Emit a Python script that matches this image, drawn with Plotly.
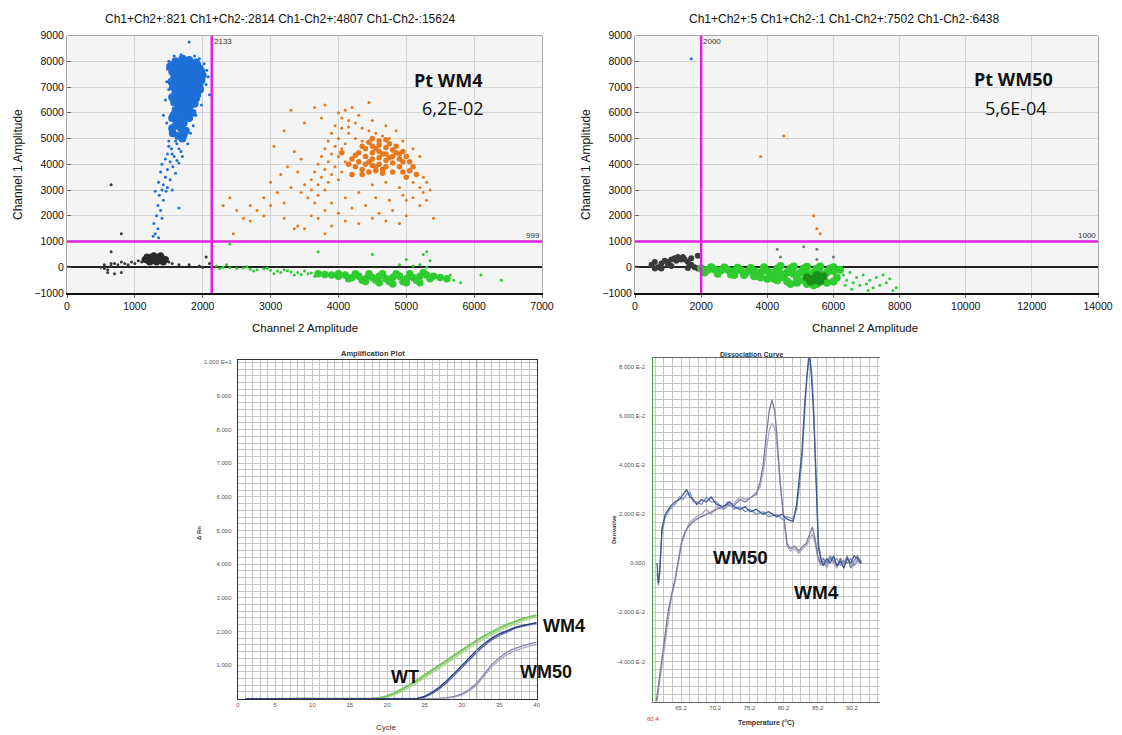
import plotly.graph_objects as go

# ---------------- DATA ----------------
# Panel A (Pt WM4) droplets: (Channel 2 amplitude, Channel 1 amplitude)
A_BLUE_CORE = [(1600,8000),(1700,8100),(1800,8050),(1900,7950),(1650,7800),(1750,7850),(1850,7800),(1950,7700),
    (1550,7600),(1620,7650),(1700,7600),(1780,7650),(1860,7600),(1930,7500),(2000,7450),(1580,7400),(1660,7450),
    (1740,7400),(1820,7400),(1900,7350),(1980,7250),(1600,7200),(1680,7250),(1760,7200),(1840,7200),(1920,7150),
    (1560,7000),(1640,7050),(1720,7000),(1800,7000),(1880,6950),(1960,6900),(1600,6800),(1680,6850),(1760,6800),
    (1840,6750),(1920,6700),(1620,6600),(1700,6600),(1780,6550),(1860,6500),(1580,6400),(1660,6400),(1740,6350),
    (1820,6300),(1640,6200),(1720,6150),(1800,6100),(1600,6000),(1680,5950),(1760,5900),(1550,5800),(1650,5700),
    (1720,5600),(1600,5500),(1680,5400),(1750,5300),(1560,5200),(1640,5100),(1700,5000),
    (1520,7800),(1620,7900),(1720,7950),(1820,7900),(1920,7850),(1980,7600),(1540,7200),(1700,7100),(1850,7100),
    (1950,7050),(1650,6700),(1800,6650),(1900,6550),(1550,6600),(1700,6450),(1880,6350),(1600,6100),(1750,6050),
    (1850,6000),(1570,5900),(1700,5750),(1800,5800),(1620,5600),(1550,5400),(1720,5150)]
A_BLUE = [(1500,4900),(1620,4800),(1540,4600),(1680,4500),(1480,4400),(1580,4300),(1450,4200),(1520,4100),(1650,4050),
    (1400,4000),(1560,3900),(1480,3800),(1380,3700),(1600,3650),(1450,3500),(1520,3400),(1350,3300),(1420,3200),
    (1480,3100),(1400,3000),(1300,2950),(1460,2950),(1550,3000),(1360,2800),(1420,2600),(1340,2400),(1380,2200),
    (1320,2000),(1400,1900),(1280,1700),(1340,1500),(1300,1300),(1270,1200),(1350,1150),(1650,2300),(1800,8750),
    (2100,6700),(2050,7100),(2020,7900),(1500,8000),(1480,7700),(1450,6500),(1420,5900),(1980,6300),(1900,5900),
    (1860,5500),(1820,5200),(1780,4800),(1700,4300),(1520,5300),(1470,5600),(2080,7400),(2060,7650),(1530,7950),
    (1580,8200),(1680,8250),(1880,8200),(1950,8100),(1990,7800),(1500,6900),(1470,7200),(1600,4900),(1500,4700),
    (1650,4600),(1550,4400),(1620,4150)]
A_ORANGE_CORE = [(4400,4600),(4500,4700),(4600,4750),(4700,4650),(4800,4550),(4900,4400),(4500,4450),(4600,4500),
    (4700,4400),(4800,4300),(4900,4200),(4400,4300),(4500,4200),(4600,4250),(4700,4150),(4800,4050),(4300,4100),
    (4400,4000),(4500,3950),(4600,4000),(4700,3900),(4350,3800),(4450,3700),(4550,3750),(4650,3650),(4250,3900),
    (4200,4200),(4300,4450),(4850,4700),(4950,4500),(5000,4300),(5050,4100),(4900,3900),(4800,3700),(5100,3900),
    (5150,3600),(5000,3500),(4200,3600),(4600,4900),(4500,5000),
    (4350,4700),(4450,4850),(4550,4600),(4650,4400),(4750,4250),(4850,4450),(4950,4100),(4750,4800),(4450,4100),
    (4550,3900),(4350,3600),(4650,3800),(4250,4350),(4150,4000),(4050,4450),(4950,3700),(5050,3750),(4700,4950)]
A_ORANGE = [(4000,6000),(4100,6100),(4050,5800),(4150,5700),(4250,5600),(4350,5400),(4450,5300),(4550,5200),(4650,5100),
    (4750,5000),(3950,5500),(4050,5400),(4150,5200),(4250,5000),(4350,4900),(3900,5200),(4000,5000),(4100,4800),
    (3850,4900),(3950,4700),(4050,4600),(3800,4600),(3900,4400),(4000,4300),(4100,4100),(3750,4300),(3850,4100),
    (3950,3900),(4050,3700),(3700,4000),(3800,3800),(3900,3600),(4000,3400),(3650,3700),(3750,3500),(3850,3300),
    (3600,3400),(3700,3200),(3800,3000),(3500,3200),(3600,3000),(3700,2800),(3450,2900),(3550,2700),(3650,2500),
    (3900,2500),(4100,2700),(4300,2900),(4500,3200),(4700,3300),(4900,3100),(5100,3300),(5200,3100),(5300,3300),
    (5250,2900),(5100,2700),(4950,2800),(4750,2600),(4550,2700),(4400,2400),(4200,2300),(4000,2100),(3800,2200),
    (4600,2100),(4800,2200),(5000,2000),(5400,1900),(5250,3500),(5300,2600),(4300,5900),(4200,6200),(3750,5800),
    (3650,6200),(3500,5600),(3300,6100),(3200,5300),(3050,4700),(3350,4500),(3450,4200),(3250,3900),(3150,3600),
    (3400,3700),(3000,3300),(3300,3100),(3100,2900),(2900,2700),(3200,2500),(3000,2400),(2800,2200),(2700,2400),
    (2900,2000),(2600,1900),(2500,2200),(2400,2700),(2300,2400),(2450,1300),(2700,1800),(3200,1900),(3350,1500),
    (3400,1600),(3500,1500),(3800,1300),(3900,1600),(4100,1800),(4300,1700),(4500,1900),(4700,1800),(4900,1700),
    (5000,2600),(5200,2400),(5350,3000),(3600,2000),(3700,1900),(3800,6300),(4450,6400),(4150,5450),(4500,5700),
    (4700,5500),(4850,5300),(4950,4900),(5100,4600),(5200,4300)]
A_GREEN_CORE = [(3900,-300),(4000,-350),(4100,-300),(4200,-400),(4300,-350),(4400,-450),(4500,-400),(4600,-350),
    (4700,-450),(4800,-400),(4900,-350),(5000,-450),(5100,-400),(5200,-350),(5300,-300),(4000,-250),(4150,-450),
    (4350,-500),(4550,-500),(4750,-550),(4950,-550),(5150,-500),(5350,-450),(4250,-250),(4450,-250),(4650,-250),
    (4850,-250),(5050,-250),(5250,-200),(5400,-350),(5500,-400),(5600,-450),(4600,-600),(4800,-650),(5000,-600),
    (5200,-600),(4400,-550),(3800,-280),(3700,-250)]
A_GREEN = [(2200,50),(2300,0),(2400,-20),(2500,-50),(2600,-30),(2700,-80),(2800,-100),(2900,-60),(3000,-120),
    (3100,-150),(3200,-100),(3300,-180),(3400,-200),(3500,-150),(3600,-220),(3700,-250),(3800,-200),(2350,100),
    (2650,20),(2950,-40),(3250,-140),(3550,-250),(3850,-300),(2250,-50),(2750,-150),(3150,-200),(3450,-280),
    (5700,-500),(5800,-600),(6100,-300),(6400,-500),(5300,0),(5200,100),(5350,250),(5250,500),(5300,600),
    (4500,500),(5000,300),(3700,600),(2400,900),(4900,100),(5100,50),(3050,-250),(3350,-300),(3650,-350),(5650,-300)]
A_BLACK_CORE = [(1150,300),(1200,350),(1250,300),(1300,350),(1350,300),(1400,250),(1200,250),(1250,400),(1300,250),
    (1350,400),(1400,350),(1450,300),(1220,200),(1320,200),(1280,450),(1380,450),(1180,400),(1420,200)]
A_BLACK = [(500,0),(550,100),(600,-100),(650,50),(700,150),(750,100),(800,200),(850,150),(900,100),(950,200),
    (1000,150),(1050,250),(1100,200),(600,-200),(700,-250),(800,-200),(550,-50),(650,150),(1500,200),(1550,150),
    (1650,100),(1800,100),(2000,0),(2050,400),(650,600),(800,1300),(650,3200),(2100,150),(1950,50)]

# Panel B (Pt WM50) droplets
B_BLUE = [(1700,8100)]
B_ORANGE = [(3800,4300),(4500,5100),(5400,2000),(5500,1500),(5600,1300)]
B_GREY = [(4300,700),(4400,400),(5100,800),(5500,700),(5500,300),(6000,400)]
B_GREEN = [(2000,-50),(2200,-100),(2400,-80),(2600,-120),(2800,-100),(3000,-150),(3200,-120),(3400,-180),(3600,-150),
    (3800,-200),(4000,-150),(4200,-200),(4400,-250),(4600,-200),(4800,-250),(5000,-200),(5200,-250),(5400,-200),
    (5600,-250),(5800,-200),(6000,-150),(6200,-100),(2100,-200),(2500,-250),(2900,-280),(3300,-300),(3700,-320),
    (4100,-350),(4500,-400),(4900,-450),(5300,-450),(5700,-450),(6100,-400),(3900,0),(4300,-50),(4700,-50),
    (5100,-50),(5500,-50),(5900,-50),(3500,-30),(3100,-20),(2700,-10),(2300,0),(4300,-500),(4600,-550),(4900,-600),
    (5200,-650),(5500,-650),(5800,-600),(6000,-550),(4700,-650),(5400,-700),(5100,-500),(5600,-500),(3600,-350),
    (3000,-300),(4000,-450),(4400,50),(4800,30),(5200,20),(5600,30),(6000,0),(3800,-400),(4200,-450)]
B_GREEN_SPARSE = [(6300,-300),(6500,-200),(6700,-400),(6900,-300),(7100,-500),(7300,-400),(6600,-600),(6800,-700),
    (7000,-650),(7200,-800),(7400,-700),(7600,-600),(7800,-900),(7500,-300),(7900,-800),(6400,-500),(7700,-450),
    (6350,-700),(6550,-850),(7050,-900)]
B_GREEN_DARK = [(5200,-400),(5400,-450),(5600,-400),(5500,-300),(5700,-350),(5300,-550),(5600,-550),(5450,-500)]
B_BLACK = [(500,100),(600,200),(700,0),(800,150),(900,250),(1000,200),(1100,300),(1200,350),(1300,400),(1400,300),
    (1250,250),(1350,350),(1450,400),(1500,300),(600,-50),(800,-50),(1000,100),(1100,50),(1600,200),(1700,100),
    (1800,0),(1900,-50),(1700,350),(1900,450),(1600,-30)]

TITLE_A = "Ch1+Ch2+:821 Ch1+Ch2-:2814 Ch1-Ch2+:4807 Ch1-Ch2-:15624"
TITLE_B = "Ch1+Ch2+:5 Ch1+Ch2-:1 Ch1-Ch2+:7502 Ch1-Ch2-:6438"
THRESH_A = (2133, 999)
THRESH_B = (2000, 1000)
LABEL_A = ("Pt WM4", "6,2E-02")
LABEL_B = ("Pt WM50", "5,6E-04")

# Amplification plot (cycle 1..40, delta Rn)
CYCLES = list(range(1, 41))
BASE17 = [0.00, 0.01, 0.00, 0.00, 0.01, 0.00, 0.00, 0.02, 0.02, 0.00, 0.00, 0.00, 0.01, 0.00, 0.00, 0.00, 0.00]
WT1 = BASE17 + [0.01, 0.03, 0.09, 0.18, 0.29, 0.42, 0.56, 0.71, 0.86, 1.01, 1.17, 1.32, 1.47, 1.61, 1.75, 1.88,
                2.00, 2.11, 2.21, 2.30, 2.38, 2.44, 2.49]
WT2 = [0.0] * 17 + [0.00, 0.02, 0.07, 0.15, 0.26, 0.38, 0.52, 0.67, 0.82, 0.97, 1.13, 1.28, 1.43, 1.57, 1.71, 1.84,
                    1.97, 2.08, 2.18, 2.27, 2.35, 2.42, 2.47]
WT3 = [0.0] * 17 + [0.00, 0.01, 0.05, 0.12, 0.22, 0.34, 0.47, 0.62, 0.77, 0.92, 1.07, 1.22, 1.37, 1.51, 1.65, 1.78,
                    1.91, 2.03, 2.13, 2.22, 2.30, 2.37, 2.43]
WM4_1 = [0.0] * 23 + [0.01, 0.07, 0.19, 0.35, 0.54, 0.76, 0.99, 1.23, 1.45, 1.64, 1.80, 1.93, 2.03, 2.11, 2.17,
                      2.22, 2.26]
WM4_2 = [0.0] * 23 + [0.00, 0.05, 0.15, 0.30, 0.48, 0.70, 0.93, 1.16, 1.38, 1.58, 1.75, 1.88, 1.99, 2.08, 2.15,
                      2.20, 2.24]
WM50_1 = [0.0] * 26 + [0.01, 0.03, 0.07, 0.14, 0.28, 0.46, 0.75, 1.02, 1.22, 1.38, 1.49, 1.57, 1.63, 1.68]
WM50_2 = [0.0] * 27 + [0.02, 0.05, 0.11, 0.24, 0.41, 0.68, 0.95, 1.15, 1.31, 1.42, 1.50, 1.56, 1.61]
AMP_Y_TICKS = [1, 2, 3, 4, 5, 6, 7, 8, 9, 10]
AMP_Y_TEXT = ["1.000", "2.000", "3.000", "4.000", "5.000", "6.000", "7.000", "8.000", "9.000", "1.000 E+1"]
AMP_X_TICKS = [0, 5, 10, 15, 20, 25, 30, 35, 40]

# Dissociation curve (temperature, derivative)
T_WM4 = [61.7, 61.9, 62.1, 62.4, 62.9, 63.6, 64.3, 65.0, 65.5, 66.0, 66.5, 67.0, 67.5, 68.2, 68.9, 69.6, 70.4,
         71.4, 72.3, 73.0, 73.8, 74.6, 75.3, 76.2, 77.2, 78.0, 79.2, 80.0, 80.7, 81.6, 82.1, 82.5, 82.9, 83.3,
         83.6, 83.96, 84.3, 84.6, 84.95, 85.3, 85.7, 86.0, 86.5, 87.0, 87.5, 88.0, 88.5, 89.0, 89.5, 90.0, 90.5,
         91.0, 91.5]
D_WM4_1 = [0.000, -0.008, -0.004, 0.014, 0.020, 0.023, 0.025, 0.026, 0.028, 0.030, 0.027, 0.026, 0.024, 0.026,
           0.025, 0.027, 0.024, 0.023, 0.025, 0.023, 0.022, 0.023, 0.021, 0.022, 0.020, 0.021, 0.019, 0.020,
           0.018, 0.017, 0.024, 0.034, 0.046, 0.066, 0.078, 0.087, 0.075, 0.060, 0.033, 0.006, 0.001, -0.001,
           0.002, 0.000, 0.003, -0.001, 0.001, -0.002, 0.002, 0.000, 0.003, 0.002, 0.000]
D_WM4_2 = [-0.004, -0.009, -0.002, 0.012, 0.019, 0.022, 0.024, 0.027, 0.026, 0.028, 0.029, 0.025, 0.025, 0.024,
           0.027, 0.025, 0.025, 0.022, 0.024, 0.022, 0.023, 0.021, 0.022, 0.020, 0.021, 0.019, 0.020, 0.018,
           0.019, 0.018, 0.022, 0.031, 0.043, 0.062, 0.076, 0.085, 0.078, 0.063, 0.036, 0.008, 0.002, 0.000,
           -0.001, 0.002, 0.001, 0.002, -0.001, 0.001, 0.000, 0.002, -0.001, 0.001, 0.000]
T_WM50 = [61.6, 61.9, 62.1, 62.4, 62.9, 63.3, 63.8, 64.3, 64.8, 65.3, 65.8, 66.3, 67.0, 67.5, 68.2, 68.9, 69.6,
          70.4, 71.2, 72.0, 72.8, 73.8, 74.6, 75.5, 76.2, 76.75, 77.2, 77.7, 78.1, 78.5, 78.9, 79.2, 79.5, 79.7,
          80.1, 80.4, 80.7, 81.2, 81.8, 82.4, 83.0, 83.5, 84.0, 84.4, 84.8, 85.2, 85.6, 86.0, 86.5, 87.0, 87.5,
          88.0, 88.5, 89.0, 89.5, 90.0, 90.5, 91.0, 91.6]
D_WM50_1 = [-0.056, -0.050, -0.045, -0.040, -0.030, -0.020, -0.013, -0.007, 0.001, 0.009, 0.013, 0.015, 0.017,
            0.018, 0.019, 0.020, 0.021, 0.022, 0.023, 0.024, 0.023, 0.026, 0.025, 0.027, 0.028, 0.033, 0.040,
            0.053, 0.062, 0.0665, 0.062, 0.053, 0.042, 0.0326, 0.022, 0.016, 0.008, 0.006, 0.007, 0.005, 0.007,
            0.008, 0.012, 0.0148, 0.010, 0.003, 0.000, 0.002, 0.000, 0.003, 0.001, -0.001, 0.002, 0.000, 0.003,
            -0.002, 0.001, 0.003, 0.000]
D_WM50_2 = [-0.058, -0.052, -0.047, -0.041, -0.031, -0.022, -0.014, -0.008, 0.000, 0.008, 0.012, 0.016, 0.018,
            0.019, 0.020, 0.022, 0.020, 0.023, 0.022, 0.025, 0.024, 0.027, 0.026, 0.027, 0.029, 0.031, 0.037,
            0.047, 0.054, 0.057, 0.055, 0.049, 0.040, 0.031, 0.021, 0.014, 0.007, 0.005, 0.006, 0.004, 0.006,
            0.007, 0.010, 0.012, 0.008, 0.002, -0.001, 0.001, -0.002, 0.002, 0.000, -0.002, 0.001, -0.001, 0.002,
            0.000, -0.001, 0.002, 0.001]
DIS_X_TICKS = [65.2, 70.2, 75.2, 80.2, 85.2, 90.2]
DIS_Y_TICKS = [-0.04, -0.02, 0.0, 0.02, 0.04, 0.06, 0.08]
DIS_Y_TEXT = ["-4.000 E-2", "-2.000 E-2", "0.000", "2.000 E-2", "4.000 E-2", "6.000 E-2", "8.000 E-2"]

# ---------------- FIGURE ----------------
W, H = 1122, 735
def fx(p): return p / W
def fy(p): return 1 - p / H

C_BLUE, C_ORANGE, C_GREEN, C_BLACK = "#1f6fd8", "#e8781c", "#2fcc2f", "#3a3a3a"
MAG = "#e11fe1"
FONT = "Liberation Sans, Arial, sans-serif"

fig = go.Figure()

def pts(pairs, color, size, xa, ya):
    fig.add_trace(go.Scatter(x=[p[0] for p in pairs], y=[p[1] for p in pairs], mode="markers",
                             marker=dict(color=color, size=size, line=dict(width=0)),
                             xaxis=xa, yaxis=ya, showlegend=False, hoverinfo="skip"))

# Panel A
pts(A_BLACK, C_BLACK, 3, "x", "y")
pts(A_BLACK_CORE, "#2a2a2a", 7, "x", "y")
pts(A_GREEN, C_GREEN, 3, "x", "y")
pts(A_GREEN_CORE, C_GREEN, 7.5, "x", "y")
pts(A_ORANGE, C_ORANGE, 3, "x", "y")
pts(A_ORANGE_CORE, C_ORANGE, 5.5, "x", "y")
pts(A_BLUE, C_BLUE, 3, "x", "y")
pts(A_BLUE_CORE, C_BLUE, 8, "x", "y")
# Panel B
pts(B_BLACK, C_BLACK, 6, "x2", "y2")
pts(B_GREEN_SPARSE, C_GREEN, 3, "x2", "y2")
pts(B_GREEN, C_GREEN, 8, "x2", "y2")
pts(B_GREEN_DARK, "#1a8f1a", 8, "x2", "y2")
pts(B_GREY, "#777777", 3, "x2", "y2")
pts(B_ORANGE, C_ORANGE, 3, "x2", "y2")
pts(B_BLUE, C_BLUE, 3, "x2", "y2")

# Amplification plot
amp = [(WT3, "#a9d98f"), (WT2, "#8fcf72"), (WT1, "#6fbf55"),
       (WM50_2, "#b3a9c6"), (WM50_1, "#8c84a6"), (WM4_2, "#5466a8"), (WM4_1, "#23387f")]
for ys, col in amp:
    fig.add_trace(go.Scatter(x=CYCLES, y=ys, mode="lines", line=dict(color=col, width=1.3),
                             xaxis="x3", yaxis="y3", showlegend=False, hoverinfo="skip"))

# Dissociation curve
dis = [(T_WM50, D_WM50_2, "#b0a7c8"), (T_WM50, D_WM50_1, "#7f7a9a"),
       (T_WM4, D_WM4_2, "#7f95c4"), (T_WM4, D_WM4_1, "#3f5690")]
for xs, ys, col in dis:
    fig.add_trace(go.Scatter(x=xs, y=ys, mode="lines", line=dict(color=col, width=1.3),
                             xaxis="x4", yaxis="y4", showlegend=False, hoverinfo="skip"))

tickf = dict(family=FONT, size=10.5, color="#111")
small = dict(family=FONT, size=6, color="#555")

scat_x = dict(range=[0, 7000], dtick=1000, tickformat="d", showgrid=True, gridcolor="#d5d5d5", zeroline=False,
              showline=True, linecolor="#111", linewidth=1.5, ticks="outside", ticklen=3, tickcolor="#777",
              tickfont=tickf, automargin=False)
scat_y = dict(range=[-1000, 9000], dtick=1000, tickformat="d", showgrid=True, gridcolor="#d5d5d5", zeroline=True,
              zerolinecolor="#222", zerolinewidth=1.5, showline=True, linecolor="#aaaaaa", linewidth=1,
              mirror=True, ticks="inside", ticklen=4, tickcolor="#666", tickfont=tickf, automargin=False)

fig.update_layout(
    width=W, height=H, margin=dict(l=0, r=0, t=0, b=0, autoexpand=False),
    paper_bgcolor="white", plot_bgcolor="rgba(0,0,0,0)",
    xaxis=dict(scat_x, domain=[fx(67), fx(542)], anchor="y"),
    yaxis=dict(scat_y, domain=[fy(293), fy(35.5)], anchor="x"),
    xaxis2=dict(scat_x, range=[0, 14000], dtick=2000, domain=[fx(635), fx(1098)], anchor="y2"),
    yaxis2=dict(scat_y, domain=[fy(293), fy(35.5)], anchor="x2"),
    xaxis3=dict(domain=[fx(237.7), fx(536.7)], anchor="y3", range=[0, 40], tickvals=AMP_X_TICKS,
                showgrid=True, gridcolor="#c6c6c6", gridwidth=1, zeroline=False,
                minor=dict(dtick=1, showgrid=True, gridcolor="#c6c6c6"),
                showline=True, linecolor="#333", linewidth=1, mirror=True, ticks="", tickfont=small,
                automargin=False),
    yaxis3=dict(domain=[fy(698.7), fy(360)], anchor="x3", range=[0, 10.07], tickvals=AMP_Y_TICKS,
                ticktext=AMP_Y_TEXT, showgrid=True, gridcolor="#c6c6c6", zeroline=False,
                minor=dict(dtick=0.2, showgrid=True, gridcolor="#c6c6c6"),
                showline=True, linecolor="#333", linewidth=1, mirror=True, ticks="", tickfont=small,
                ticklabelstandoff=4, automargin=False),
    xaxis4=dict(domain=[fx(653.3), fx(880)], anchor="y4", range=[61.15, 94.29], tickvals=DIS_X_TICKS,
                showgrid=True, gridcolor="#c6c6c6", zeroline=False,
                minor=dict(tick0=65.2, dtick=1.25, showgrid=True, gridcolor="#c6c6c6"),
                showline=True, linecolor="#666", linewidth=1, mirror=True, ticks="", tickfont=small,
                automargin=False),
    yaxis4=dict(domain=[fy(702), fy(358.3)], anchor="x4", range=[-0.0565, 0.0835], tickvals=DIS_Y_TICKS,
                ticktext=DIS_Y_TEXT, showgrid=True, gridcolor="#c6c6c6", zeroline=False,
                minor=dict(tick0=0, dtick=0.02 / 6, showgrid=True, gridcolor="#c6c6c6"),
                showline=True, linecolor="#3da03d", linewidth=1.2, ticks="", tickfont=small,
                ticklabelstandoff=6, automargin=False),
)

shapes = []
for xr, yr in (("x", "y"), ("x2", "y2")):
    shapes.append(dict(type="rect", xref=xr + " domain", yref=yr + " domain", x0=0, x1=1, y0=0, y1=1,
                       fillcolor="#f4f4f4", line=dict(width=0), layer="below"))
    shapes.append(dict(type="line", xref=xr + " domain", yref=yr + " domain", x0=0, x1=1, y0=1, y1=1,
                       line=dict(color="#aaaaaa", width=1)))
for (tx, ty), xr, yr, xmax in ((THRESH_A, "x", "y", 7000), (THRESH_B, "x2", "y2", 14000)):
    shapes.append(dict(type="line", xref=xr, yref=yr, x0=tx, x1=tx, y0=-1000, y1=9000,
                       line=dict(color=MAG, width=2.5)))
    shapes.append(dict(type="line", xref=xr, yref=yr, x0=0, x1=xmax, y0=ty, y1=ty,
                       line=dict(color=MAG, width=2.5)))
# darker cycle line in amplification grid
shapes.append(dict(type="line", xref="x3", yref="y3 domain", x0=32, x1=32, y0=0, y1=1,
                   line=dict(color="#a8a8a8", width=1)))
fig.update_layout(shapes=shapes)

ann = []
def A(text, x, y, size, bold=False, color="#111", angle=0, family=FONT, xanchor="center", yanchor="middle",
      xref="paper", yref="paper"):
    t = "<b>%s</b>" % text if bold else text
    ann.append(dict(text=t, x=x, y=y, xref=xref, yref=yref, showarrow=False, textangle=angle,
                    font=dict(family=family, size=size, color=color), xanchor=xanchor, yanchor=yanchor))

A(TITLE_A, fx(280), fy(19), 12)
A(TITLE_B, fx(844), fy(19), 12)
A("Channel 2 Amplitude", fx(305), fy(328), 11.5)
A("Channel 2 Amplitude", fx(865), fy(328), 11.5)
A("Channel 1 Amplitude", fx(18), fy(165), 12, angle=-90)
A("Channel 1 Amplitude", fx(586), fy(165), 12, angle=-90)
A(LABEL_A[0], fx(448), fy(80), 18, bold=True, family="Open Sans, sans-serif")
A(LABEL_A[1], fx(453), fy(108), 18, family="Open Sans, sans-serif")
A(LABEL_B[0], fx(1014), fy(79), 18, bold=True, family="Open Sans, sans-serif")
A(LABEL_B[1], fx(1016), fy(108), 18, family="Open Sans, sans-serif")
A(str(THRESH_A[0]), THRESH_A[0], 9000, 8, xref="x", yref="y", xanchor="left", yanchor="top", color="#333")
A(str(THRESH_A[1]), 7000, THRESH_A[1], 8, xref="x", yref="y", xanchor="right", yanchor="bottom", color="#333")
A(str(THRESH_B[0]), THRESH_B[0], 9000, 8, xref="x2", yref="y2", xanchor="left", yanchor="top", color="#333")
A(str(THRESH_B[1]), 14000, THRESH_B[1], 8, xref="x2", yref="y2", xanchor="right", yanchor="bottom", color="#333")

A("Amplification Plot", fx(373), fy(353), 7.5, bold=True, color="#333")
A("Cycle", fx(386), fy(727), 8, color="#333")
A("Δ Rn", fx(199), fy(533), 6, bold=True, angle=-90, color="#333")
A("WT", fx(405), fy(677), 18, bold=True, color="#111")
A("WM4", fx(564), fy(626), 18, bold=True, color="#111")
A("WM50", fx(546), fy(672), 18, bold=True, color="#111")

A("Dissociation Curve", fx(752), fy(354), 7, bold=True, color="#333")
A("Temperature (°C)", fx(766), fy(723), 7, bold=True, color="#333")
A("Derivative", fx(614), fy(530), 6, bold=True, angle=-90, color="#333")
A("60.4", fx(653), fy(719), 6, color="#d03030")
A("WM50", fx(740), fy(557), 19, bold=True, color="#111")
A("WM4", fx(816), fy(592), 19, bold=True, color="#111")

fig.update_layout(annotations=ann)
fig.write_html("out.html", config={"displayModeBar": False},
               post_script="document.body.style.margin='0px';document.body.style.overflow='hidden';")
